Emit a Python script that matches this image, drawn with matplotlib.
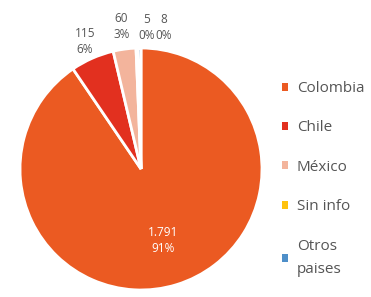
import numpy as np
import matplotlib.pyplot as plt

paises = ["Colombia", "Chile", "México", "Sin info", "Otros\npaises"]
valores = [1791, 115, 60, 5, 8]
etiquetas = ["1.791", "115", "60", "5", "8"]
colores = ["#EB5A22", "#E2301F", "#F3B49C", "#FFC20E", "#4E8FC9"]

plt.rcParams['font.family'] = ['Open Sans', 'DejaVu Sans']

fig = plt.figure(figsize=(3.71, 2.97), dpi=100)
ax = fig.add_axes([0, 0, 1, 1])

wedges, _ = ax.pie(valores, colors=colores, startangle=90, counterclock=False,
                   radius=1, wedgeprops=dict(edgecolor="white", linewidth=2))

total = sum(valores)
# label placement (radius, x override) per slice
lab_pos = [(0.62, 0), (1.15, 0), (1.19, 0), (1.17, 0.05), (1.17, 0.19)]
for w, v, e, (r, dx) in zip(wedges, valores, etiquetas, lab_pos):
    ang = np.deg2rad((w.theta1 + w.theta2) / 2)
    pct = f"{round(100 * v / total)}%"
    x = r * np.cos(ang)
    y = r * np.sin(ang)
    if dx:
        x = dx
    col = "white" if r < 1 else "#555555"
    ax.text(x, y, f"{e}\n{pct}", ha="center", va="center", fontsize=8.5,
            color=col, linespacing=1.25)

ax.set_xlim(-141 / 121, 230 / 121)
ax.set_ylim(-128 / 121, 169 / 121)
ax.set_aspect("auto")
ax.axis("off")

leg = ax.legend(wedges, paises, loc="upper left", bbox_to_anchor=(282 / 371, 1 - 81 / 297),
                bbox_transform=fig.transFigure, frameon=False, fontsize=11,
                handlelength=0.42, handleheight=0.42, handletextpad=0.55,
                labelspacing=1.6, borderaxespad=0, borderpad=0)
for t in leg.get_texts():
    t.set_color("#555555")
    t.set_linespacing(1.75)
for h in leg.legend_handles:
    h.set_edgecolor("none")

fig.savefig("out.png", dpi=100)
